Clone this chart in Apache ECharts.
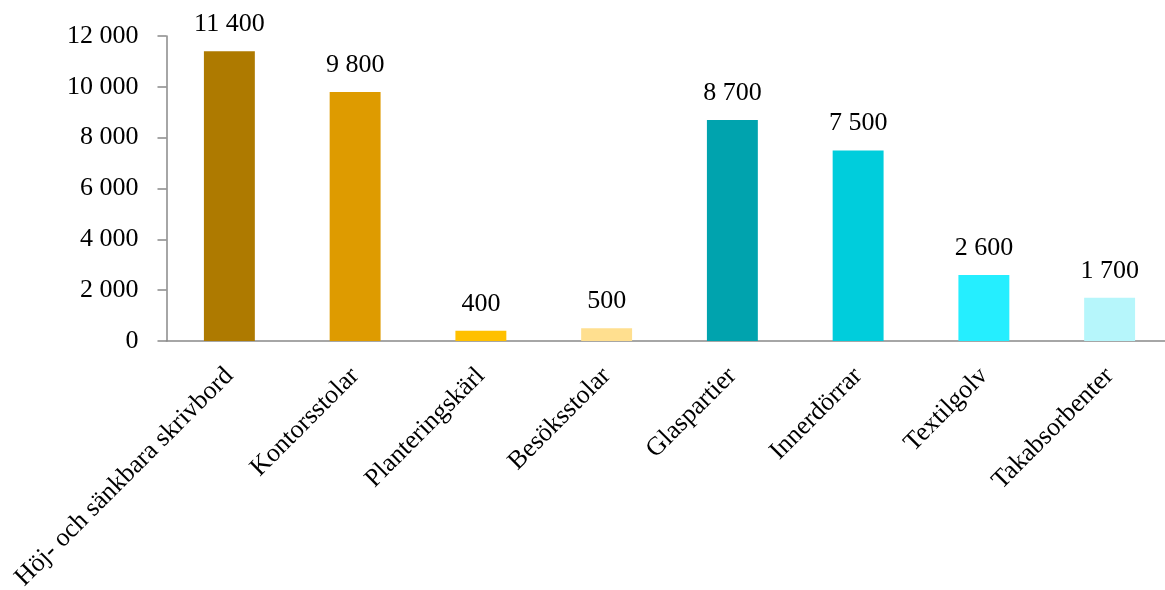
<!DOCTYPE html>
<html>
<head>
<meta charset="utf-8">
<script src="https://cdn.jsdelivr.net/npm/echarts@6/dist/echarts.min.js"></script>
<style>
  html, body { margin: 0; padding: 0; background: #fff; }
  #chart { width: 1165px; height: 590px; }
</style>
</head>
<body>
<div id="chart"></div>
<script>
// Product categories and counts
const categories = [
  'Höj- och sänkbara skrivbord',
  'Kontorsstolar',
  'Planteringskärl',
  'Besöksstolar',
  'Glaspartier',
  'Innerdörrar',
  'Textilgolv',
  'Takabsorbenter'
];
const values = [11400, 9800, 400, 500, 8700, 7500, 2600, 1700];
const barColors = ['#AE7A00', '#DE9B00', '#FFC000', '#FFDF8F', '#00A3AE', '#00CDDC', '#25EEFF', '#B6F6FB'];

const fontFamily = '"Liberation Serif", "DejaVu Serif", serif';

// Thousands separated by a space
function fmt(v) {
  return String(v).replace(/\B(?=(\d{3})+(?!\d))/g, ' ');
}

const chart = echarts.init(document.getElementById('chart'));
chart.setOption({
  animation: false,
  // plot area runs slightly past the right edge of the canvas
  grid: {
    left: 166.5, width: 1006, top: 36, bottom: 249,
    containLabel: false,
    outerBoundsMode: 'none'
  },
  xAxis: {
    type: 'category',
    data: categories,
    axisLine: { lineStyle: { color: '#898989', width: 1.5 } },
    axisTick: { show: false },
    axisLabel: {
      interval: 0,
      rotate: 45,
      margin: 31,
      color: '#000',
      fontFamily: fontFamily,
      fontSize: 26
    }
  },
  yAxis: {
    type: 'value',
    min: 0,
    max: 12000,
    interval: 2000,
    axisLine: { show: true, lineStyle: { color: '#898989', width: 1.5 } },
    axisTick: { show: true, length: 9, lineStyle: { color: '#898989', width: 1.5 } },
    splitLine: { show: false },
    axisLabel: {
      margin: 28,
      color: '#000',
      fontFamily: fontFamily,
      fontSize: 26,
      formatter: fmt
    }
  },
  series: [{
    type: 'bar',
    data: values.map((v, i) => ({ value: v, itemStyle: { color: barColors[i] } })),
    barWidth: '40.5%',
    label: {
      show: true,
      position: 'top',
      distance: 14,
      color: '#000',
      fontFamily: fontFamily,
      fontSize: 26,
      formatter: p => fmt(p.value)
    }
  }]
});
</script>
</body>
</html>
